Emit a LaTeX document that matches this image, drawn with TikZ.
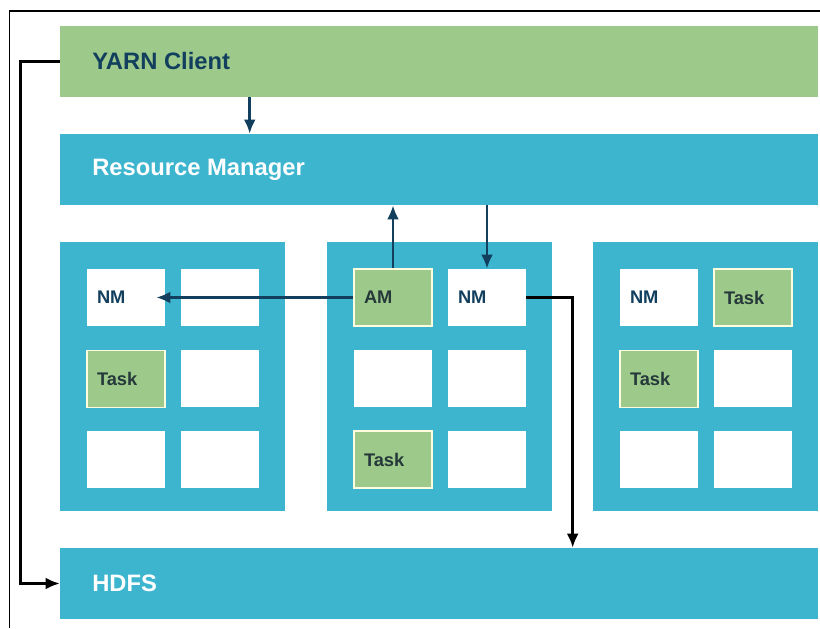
\documentclass[tikz,border=0pt]{standalone}
\usepackage{fontspec}
\setmainfont{Liberation Sans}
\usetikzlibrary{arrows.meta}

\definecolor{yarngreen}{HTML}{9DC98A}
\definecolor{yarnblue}{HTML}{3DB5CF}
\definecolor{yarnnavy}{HTML}{123F5E}
\definecolor{tasktext}{HTML}{26393A}

\begin{document}
\begin{tikzpicture}[font=\bfseries,
  bar/.style={fill=#1, draw=none, minimum width=18.95cm, minimum height=1.775cm, inner sep=0pt},
  bartxt/.style={font=\fontsize{16.9}{18}\selectfont\bfseries, anchor=west, inner sep=0pt},
  host/.style={fill=yarnblue, draw=none, minimum width=5.625cm, minimum height=6.725cm, inner sep=0pt},
  cell/.style={fill=white, draw=none, minimum height=1.425cm, text width=1.45cm, inner xsep=0.25cm,
               inner ysep=0pt, align=left, font=\fontsize{13}{14}\selectfont\bfseries},
  nmcell/.style={cell, text=yarnnavy},
  taskcell/.style={cell, fill=yarngreen, draw=white!88!yellow, line width=1.2pt, text=tasktext},
  arr/.style={draw=yarnnavy, line width=2pt, -{Latex[length=10pt,width=8.5pt]}},
  arrk/.style={draw=black, line width=1.9pt, -{Latex[length=10pt,width=8.5pt]}},
]
  % 1px = 0,025cm, picture 820 x 628 px
  \useasboundingbox (0,0) rectangle (20.5,15.7);
  \draw[line width=1.2pt] (0.24,0) |- (20.5,15.42);

  % barras
  \node[bar=yarngreen] (yarn) at (10.975,14.1625) {};
  \node[bar=yarnblue] (rm) at (10.975,11.4625) {};
  \node[bar=yarnblue] (hdfs) at (10.975,1.1125) {};
  \node[bartxt, text=yarnnavy] (yarnt) at (2.3,14.1625) {YARN Client};
  \node[bartxt, text=white] (rmt) at (2.3,11.4625) {Resource Manager};
  \node[bartxt, text=white] (hdfst) at (2.3,1.1125) {HDFS};

  % tres maquinas: esquerda 60-285 px, meio 327-552 px, direita 593-818 px
  \node[host] (hosta) at (4.3125,6.2875) {};
  \node[host] (hostb) at (10.9875,6.2875) {};
  \node[host] (hostc) at (17.6375,6.2875) {};

  % celulas da esquerda
  \node[nmcell] (nma) at (3.15,8.2625) {NM};
  \node[cell] (a12) at (5.5,8.2625) {};
  \node[taskcell] (a21) at (3.15,6.225) {Task};
  \node[cell] (a22) at (5.5,6.225) {};
  \node[cell] (a31) at (3.15,4.2125) {};
  \node[cell] (a32) at (5.5,4.2125) {};

  % celulas do meio
  \node[taskcell] (am) at (9.825,8.2625) {AM};
  \node[nmcell] (nmb) at (12.175,8.2625) {NM};
  \node[cell] (b21) at (9.825,6.225) {};
  \node[cell] (b22) at (12.175,6.225) {};
  \node[taskcell] (b31) at (9.825,4.2125) {Task};
  \node[cell] (b32) at (12.175,4.2125) {};

  % celulas da direita
  \node[nmcell] (nmc) at (16.475,8.2625) {NM};
  \node[taskcell] (c12) at (18.825,8.2625) {Task};
  \node[taskcell] (c21) at (16.475,6.225) {Task};
  \node[cell] (c22) at (18.825,6.225) {};
  \node[cell] (c31) at (16.475,4.2125) {};
  \node[cell] (c32) at (18.825,4.2125) {};

  % ligacoes
  \draw[arr] ([xshift=4.75cm]yarn.south west) -- ([xshift=4.75cm]rm.north west);
  \draw[arr] (am.north) -- (rm.south -| am.north);
  \draw[arr] (rm.south -| nmb.north) -- (nmb.north);
  \draw[arr] (am.west) -- ([xshift=-0.225cm]nma.east);
  \draw[arrk] (nmb.east) -| ([xshift=12.825cm]hdfs.north west);
  \draw[arrk] (yarn.west) -- ++(-0.975,0) |- (hdfs.west);
\end{tikzpicture}
\end{document}
